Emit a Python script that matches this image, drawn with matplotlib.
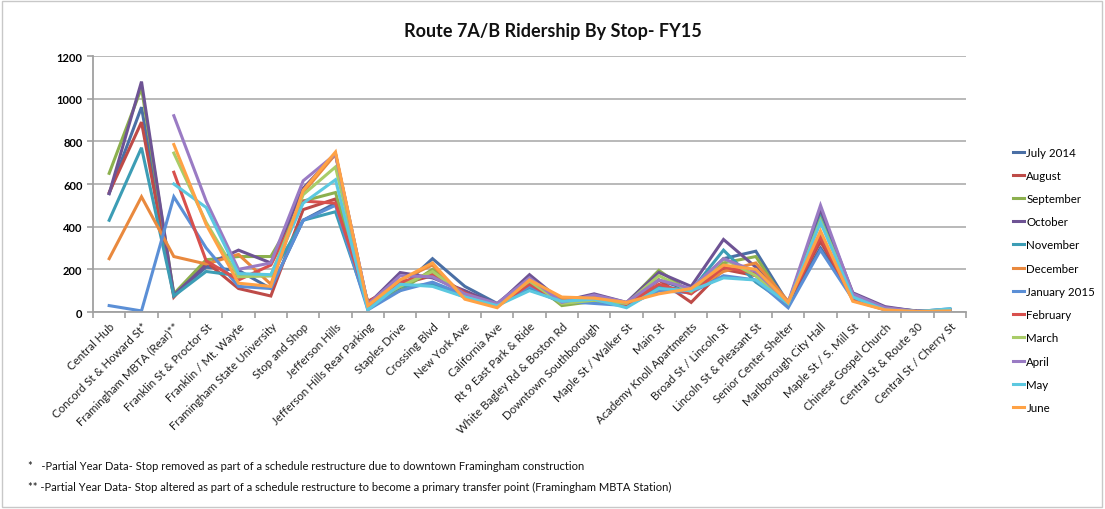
import numpy as np
import matplotlib
matplotlib.use("Agg")
import matplotlib.pyplot as plt
from matplotlib.patches import Rectangle

nan = np.nan
stops = ["Central Hub", "Concord St & Howard St*", "Framingham MBTA (Rear)**",
         "Franklin St & Proctor St", "Franklin / Mt. Wayte", "Framingham State University",
         "Stop and Shop", "Jefferson Hills", "Jefferson Hills Rear Parking", "Staples Drive",
         "Crossing Blvd", "New York Ave", "California Ave", "Rt 9 East Park & Ride",
         "White Bagley Rd & Boston Rd", "Downtown Southborough", "Maple St / Walker St",
         "Main St", "Academy Knoll Apartments", "Broad St / Lincoln St",
         "Lincoln St & Pleasant St", "Senior Center Shelter", "Marlborough City Hall",
         "Maple St / S. Mill St", "Chinese Gospel Church", "Central St & Route 30",
         "Central St / Cherry St"]

months = ["July 2014", "August", "September", "October", "November", "December",
          "January 2015", "February", "March", "April", "May", "June"]

jul = [555, 960, 80, 210, 195, 110, 430, 510, 30, 110, 250, 120, 40, 160, 45, 60, 40, 150, 100, 250, 285, 40, 300, 80, 20, 5, 10]
aug = [560, 890, 70, 235, 110, 75, 480, 530, 50, 130, 170, 90, 35, 140, 40, 55, 35, 150, 45, 200, 170, 50, 330, 70, 15, 3, 8]
sep = [650, 1050, 85, 245, 260, 260, 520, 560, 40, 100, 200, 80, 30, 150, 30, 50, 40, 195, 90, 230, 260, 30, 450, 85, 20, 2, 10]
oct_ = [555, 1080, 80, 220, 290, 230, 580, 740, 35, 185, 160, 100, 35, 175, 50, 85, 45, 185, 120, 340, 210, 40, 480, 90, 25, 3, 10]
nov = [430, 770, 75, 190, 170, 170, 430, 470, 25, 120, 130, 70, 30, 110, 45, 60, 30, 120, 100, 290, 140, 35, 440, 70, 15, 2, 12]
dec = [250, 540, 260, 225, 270, 130, 560, 740, 20, 150, 220, 70, 25, 140, 60, 70, 40, 100, 95, 190, 230, 50, 370, 55, 10, 2, 5]
jan = [30, 5, 540, 300, 120, 110, 430, 500, 10, 100, 140, 80, 30, 120, 50, 40, 30, 100, 90, 170, 150, 20, 290, 60, 10, 2, 15]
feb = [nan, nan, 655, 240, 150, 220, 520, 510, 45, 140, 180, 90, 30, 130, 45, 65, 35, 130, 85, 210, 180, 45, 350, 60, 12, 2, 8]
mar = [nan, nan, 745, 420, 165, 170, 550, 680, 40, 120, 190, 80, 35, 145, 40, 55, 40, 170, 95, 250, 170, 40, 430, 75, 15, 2, 8]
apr = [nan, nan, 920, 520, 200, 230, 615, 740, 35, 170, 165, 85, 40, 160, 45, 80, 45, 150, 110, 250, 190, 45, 500, 85, 20, 3, 10]
may = [nan, nan, 600, 490, 180, 175, 510, 620, 10, 130, 120, 70, 30, 100, 50, 60, 20, 110, 100, 160, 150, 40, 420, 70, 10, 2, 15]
jun = [nan, nan, 785, 410, 135, 120, 570, 750, 30, 150, 230, 60, 20, 150, 70, 65, 45, 85, 110, 220, 200, 45, 380, 50, 10, 2, 5]

series = [jul, aug, sep, oct_, nov, dec, jan, feb, mar, apr, may, jun]
colors = ["#4A6FA5", "#BE4B48", "#8CB04E", "#6E5394", "#3C9DB5", "#E9893E",
          "#5B8FD6", "#D8504D", "#A9CC68", "#9A7BC4", "#5CC8E0", "#FFA245"]

plt.rcParams['font.family'] = ['Lato', 'DejaVu Sans']

fig = plt.figure(figsize=(11.05, 5.10), dpi=100)
ax = fig.add_axes([93/1105, 1 - 313/510, (966 - 93)/1105, (313 - 57)/510])

x = np.arange(len(stops))
for vals, c, m in zip(series, colors, months):
    ax.plot(x, vals, color=c, lw=2.2, label=m, solid_joinstyle='miter')

ax.set_xlim(-0.5, len(stops) - 0.5)
ax.set_ylim(0, 1200)
ax.set_yticks(np.arange(0, 1201, 200))
ax.yaxis.grid(True, color="#B3B3B3", lw=1.3)
ax.set_axisbelow(True)
for s in ["top", "right"]:
    ax.spines[s].set_visible(False)
for s in ["left", "bottom"]:
    ax.spines[s].set_color("#A0A0A0")
    ax.spines[s].set_linewidth(1.3)

ax.set_xticks(x)
ax.set_xticklabels(stops, rotation=45, ha="right", rotation_mode="anchor", fontsize=8.3, color="#222222")
ax.set_xticks(np.arange(-0.5, len(stops), 1), minor=True)
ax.tick_params(axis="x", which="major", length=0, pad=6)
ax.tick_params(axis="x", which="minor", length=4, color="#A0A0A0", width=1.2)
ax.tick_params(axis="y", length=4, color="#A0A0A0", width=1.2, labelsize=8)
for lbl in ax.get_yticklabels():
    lbl.set_fontweight("bold")

fig.text(553/1105, 1 - 32/510, "Route 7A/B Ridership By Stop- FY15", ha="center", va="center",
         fontsize=13, fontweight="bold", color="#111111")

leg = fig.legend(loc="upper left", bbox_to_anchor=(1008/1105, 1 - 143/510), frameon=False,
                 fontsize=8.3, handlelength=1.0, handletextpad=0.2, labelspacing=1.06,
                 borderaxespad=0)

fig.text(28/1105, 1 - 467/510, "*   -Partial Year Data- Stop removed as part of a schedule restructure due to downtown Framingham construction",
         fontsize=8, va="center", color="#111111")
fig.text(28/1105, 1 - 487/510, "** -Partial Year Data- Stop altered as part of a schedule restructure to become a primary transfer point (Framingham MBTA Station)",
         fontsize=8, va="center", color="#111111")

fig.patches.append(Rectangle((0.002, 0.004), 0.995, 0.992, transform=fig.transFigure,
                             fill=False, edgecolor="#C8C8C8", lw=1))

fig.savefig("out.png", dpi=100)
